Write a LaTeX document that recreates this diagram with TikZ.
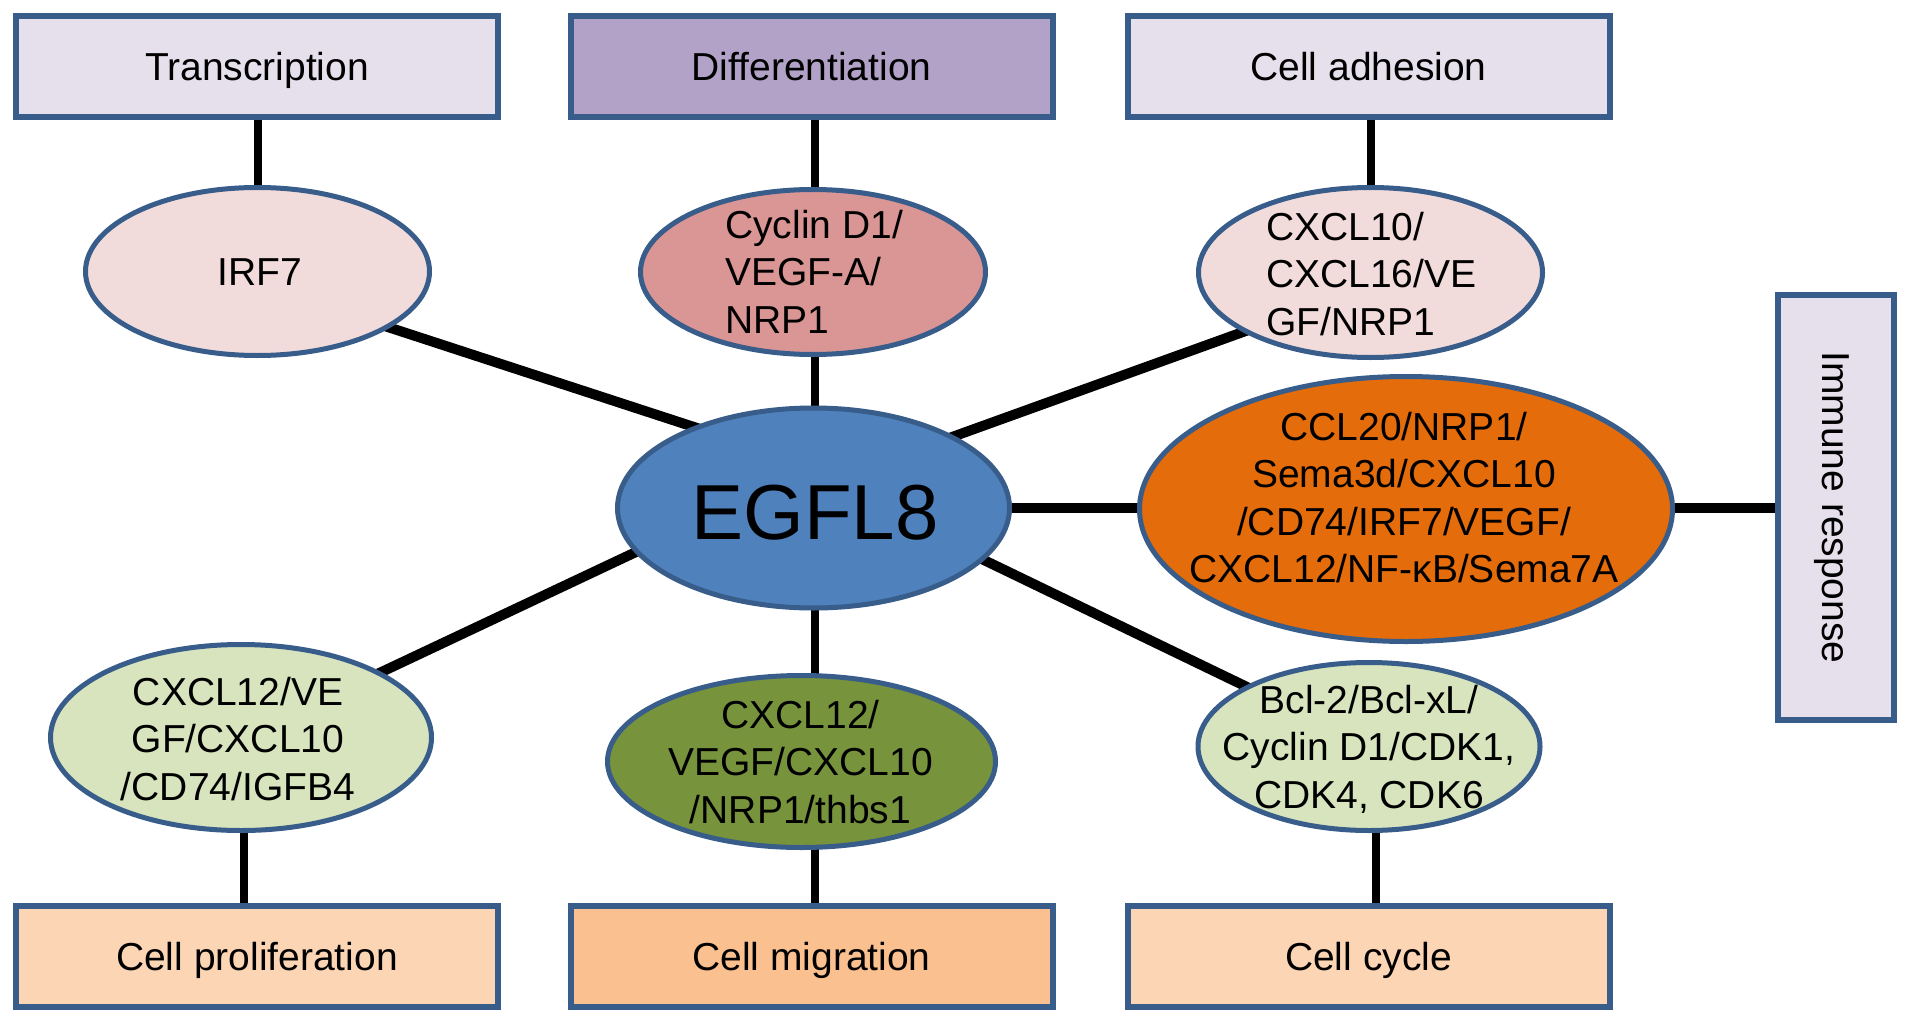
\documentclass[tikz,border=0pt]{standalone}
\usepackage{fontspec}
\setmainfont{Liberation Sans}
\usetikzlibrary{shapes.geometric,calc}
\definecolor{bord}{RGB}{56,93,138}
\definecolor{lav}{HTML}{E6E0EC}
\definecolor{purp}{HTML}{B3A2C7}
\definecolor{pinkl}{HTML}{F2DCDB}
\definecolor{rose}{HTML}{D99694}
\definecolor{blueE}{HTML}{4F81BD}
\definecolor{orng}{HTML}{E46C0A}
\definecolor{greenl}{HTML}{D7E4BD}
\definecolor{greend}{HTML}{77933C}
\definecolor{peach}{HTML}{FCD5B5}
\definecolor{peachd}{HTML}{FAC090}
\pgfdeclarelayer{canvasbg}
\pgfdeclarelayer{background}
\pgfsetlayers{canvasbg,background,main}
\begin{document}
\begin{tikzpicture}[x=1pt,y=-1pt,
  box/.style={draw=bord, line width=6pt, rectangle, inner sep=0pt,
    minimum width=482pt, minimum height=101pt,
    font=\fontsize{39}{47}\selectfont, text height=28pt, text depth=0pt, text=black},
  ell/.style={draw=bord, line width=5pt, ellipse, inner sep=0pt},
  lbl/.style={inner sep=0pt, font=\fontsize{39}{47.5}\selectfont, text=black},
  conn/.style={line width=10pt, black, shorten <=-8pt, shorten >=-8pt},
  vconn/.style={line width=8pt, black, shorten <=-8pt, shorten >=-8pt}]
\useasboundingbox (0,0) rectangle (1913,1022);
\begin{pgfonlayer}{canvasbg}
\fill[white] (0,0) rectangle (1913,1022);
\end{pgfonlayer}
% boxes
\node[box, fill=lav]    (trans)  at (257,66.5)    {Transcription};
\node[box, fill=purp]   (diff)   at (811.5,66.5)  {Differentiation};
\node[box, fill=lav]    (adh)    at (1368.5,66.5) {Cell adhesion};
\node[box, fill=peach]  (prolif) at (257,956)     {Cell proliferation};
\node[box, fill=peachd] (migr)   at (811.5,956)   {Cell migration};
\node[box, fill=peach]  (cycle)  at (1368.5,956)  {Cell cycle};
\node[box, fill=lav, rotate=-90, minimum width=425pt, minimum height=116pt] (imm) at (1836,507.5) {Immune response};
% ellipses
\node[ell, fill=pinkl,  minimum width=344pt, minimum height=168pt] (irf7)  at (257.5,271.5) {};
\node[ell, fill=rose,   minimum width=345pt, minimum height=165pt] (cyc)   at (813,272) {};
\node[ell, fill=pinkl,  minimum width=344pt, minimum height=170pt] (cx10)  at (1370.5,272.5) {};
\node[ell, fill=blueE,  minimum width=392pt, minimum height=200pt] (egfl)  at (813.5,508) {};
\node[ell, fill=orng,   minimum width=533pt, minimum height=265pt] (ccl)   at (1406,509) {};
\node[ell, fill=greenl, minimum width=381pt, minimum height=186pt] (cxl)   at (241,737.5) {};
\node[ell, fill=greend, minimum width=388pt, minimum height=172pt] (green) at (801.5,761.5) {};
\node[ell, fill=greenl, minimum width=342pt, minimum height=168pt] (bcl)   at (1369,746.5) {};
% texts
\node[lbl, anchor=north] (irf7t) at (260,258) {IRF7};
\node[lbl, anchor=north west, align=left] (cyct) at (725,210) {Cyclin D1/\\VEGF-A/\\NRP1};
\node[lbl, anchor=north west, align=left] (cx10t) at (1266,212) {CXCL10/\\CXCL16/VE\\GF/NRP1};
\node[lbl, anchor=north, font=\fontsize{78}{80}\selectfont] (egflt) at (815,485) {EGFL8};
\node[lbl, anchor=north, align=center] (cclt) at (1404,412) {CCL20/NRP1/\\Sema3d/CXCL10\\/CD74/IRF7/VEGF/\\CXCL12/NF-κB/Sema7A};
\node[lbl, anchor=north, align=center] (cxlt) at (238,677) {CXCL12/VE\\GF/CXCL10\\/CD74/IGFB4};
\node[lbl, anchor=north, align=center] (greent) at (800.5,700) {CXCL12/\\VEGF/CXCL10\\/NRP1/thbs1};
\node[lbl, anchor=north, align=center] (bclt) at (1369,685) {Bcl-2/Bcl-xL/\\Cyclin D1/CDK1,\\CDK4, CDK6};
% connectors
\begin{pgfonlayer}{background}
\draw[vconn] (irf7.north) -- (irf7.north |- trans.south);
\draw[vconn] ([xshift=1.5pt]cyc.north) -- ([xshift=1.5pt]cyc.north |- diff.south);
\draw[vconn] (cx10.north) -- (cx10.north |- adh.south);
\draw[vconn] ([xshift=1.5pt]egfl.north) -- ([xshift=1.5pt]egfl.north |- cyc.south);
\draw[vconn] ([xshift=1.5pt]egfl.south) -- ([xshift=1.5pt]egfl.south |- green.center);
\draw[vconn] ([xshift=1.5pt]egfl.south |- green.center) -- ([xshift=1.5pt]egfl.south |- migr.north);
\draw[vconn] ([xshift=3pt]cxl.south) -- ([xshift=3pt]cxl.south |- prolif.north);
\draw[vconn] ([xshift=7pt]bcl.south) -- ([xshift=7pt]bcl.south |- cycle.north);
\draw[conn] (irf7.-23.5) -- (egfl.146.5);
\draw[conn] (cx10.205.7) -- (egfl.27.8);
\draw[conn] (cxl.25.2) -- (egfl.194.2);
\draw[conn] (bcl.154.4) -- (egfl.-17.8);
\draw[conn] (egfl.east) -- (egfl.east -| ccl.west);
\draw[conn] (egfl.east -| ccl.east) -- (egfl.east -| imm.center);
\end{pgfonlayer}
\end{tikzpicture}
\end{document}
